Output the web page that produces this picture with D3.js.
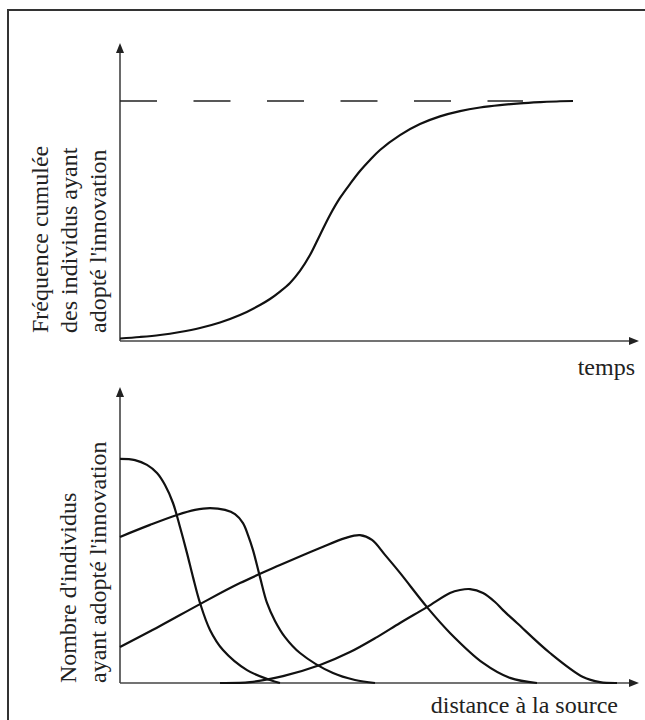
<!DOCTYPE html>
<html><head><meta charset="utf-8">
<script src="https://cdn.jsdelivr.net/npm/d3@7"></script>
<style>html,body{margin:0;padding:0;background:#fff;}svg{display:block;}
text{font-family:"Liberation Serif","Times New Roman",Times,serif;}</style>
</head><body>
<svg id="c" width="645" height="720"></svg>
<script>
// Top panel: cumulative frequency of adopters vs time (x: 0-100 time units, y: fraction 0-1)
const topCurve = [[0,0.0104],[4,0.0167],[8,0.025],[12,0.0375],[16,0.054],[20,0.077],[24,0.108],[28,0.15],[30,0.175],[32,0.206],[34,0.242],[36,0.292],[38,0.358],[40,0.442],[42,0.525],[44,0.596],[46,0.654],[48,0.708],[50,0.754],[52,0.796],[56,0.858],[60,0.904],[64,0.936],[68,0.958],[72,0.973],[76,0.983],[80,0.990],[84,0.995],[88,0.999],[90.6,1.0]];
const asymptote = 1.0;
const asymptoteEnd = 80.6;

// Bottom panel: number of adopters vs distance to source, four successive waves
const wave1 = [[0,74.7],[3,74.3],[5.4,72.7],[7.4,70],[9,66],[10.6,60],[12,52],[13.4,43.3],[14.6,35.3],[16,26.7],[18,17.7],[20.6,11],[25.4,4.3],[30,1],[32,0]];
const wave2 = [[0,48.7],[6,52.7],[11.4,56],[15,57.7],[18,58.3],[21,57.7],[23,56.3],[24.6,53.3],[25.6,49.3],[26.6,44.3],[28,35.3],[29.4,26.7],[31,20.7],[33,15.3],[36,10],[42.6,3.3],[47,1],[51,0]];
const wave3 = [[0,12],[8,19],[16,26.3],[24,33.3],[32,39.3],[40,45],[45,48.3],[48,49.3],[50.4,47.7],[53,42.7],[56,36.7],[61.4,25.3],[66,16.7],[72.6,6.7],[78,1.7],[83.4,0]];
const wave4 = [[20,0],[26,0.3],[32.6,2.3],[40,6],[46,10.3],[51.4,15.3],[56,20],[61.4,25.3],[66,30],[68,31],[70,31.3],[72.6,30],[75,27],[76.6,24.3],[79.4,20],[86,10],[92.6,2],[96,0.3],[99.4,0]];
const waves = [wave1, wave2, wave3, wave4];

const topYLabel = ["Fréquence cumulée", "des individus ayant", "adopté l'innovation"];
const topXLabel = "temps";
const botYLabel = ["Nombre d'individus", "ayant adopté l'innovation"];
const botXLabel = "distance à la source";

const svg = d3.select("#c");

// frame
svg.append("rect").attr("x",8).attr("y",10).attr("width",700).attr("height",760)
  .attr("fill","none").attr("stroke","#333").attr("stroke-width",2);

const x = d3.scaleLinear().domain([0,100]).range([120,620]);
const yTop = d3.scaleLinear().domain([0,1]).range([341,101]);
const yBot = d3.scaleLinear().domain([0,100]).range([683,383]);

function arrowUp(g, cx, tipY){
  g.append("path").attr("d",`M${cx},${tipY} L${cx-4},${tipY+10} L${cx+4},${tipY+10} Z`).attr("fill","#222");
}
function arrowRight(g, tipX, cy){
  g.append("path").attr("d",`M${tipX},${cy} L${tipX-10},${cy-4} L${tipX-10},${cy+4} Z`).attr("fill","#222");
}
function axes(yScale, topTip, rightTip){
  const g = svg.append("g");
  const x0 = x(0), y0 = yScale.range()[0];
  g.append("line").attr("x1",x0).attr("x2",x0).attr("y1",y0).attr("y2",topTip+6).attr("stroke","#444").attr("stroke-width",1.6);
  g.append("line").attr("x1",x0).attr("x2",rightTip-6).attr("y1",y0).attr("y2",y0).attr("stroke","#444").attr("stroke-width",1.6);
  arrowUp(g, x0, topTip);
  arrowRight(g, rightTip, y0);
}
axes(yTop, 43, 639);
axes(yBot, 387, 639);

// dashed asymptote
svg.append("line").attr("x1",x(0)).attr("x2",x(asymptoteEnd)).attr("y1",yTop(asymptote)).attr("y2",yTop(asymptote))
  .attr("stroke","#222").attr("stroke-width",1.6).attr("stroke-dasharray","37,36.5");

const lineTop = d3.line().x(d=>x(d[0])).y(d=>yTop(d[1])).curve(d3.curveCatmullRom.alpha(0.5));
svg.append("path").attr("d",lineTop(topCurve)).attr("fill","none").attr("stroke","#111").attr("stroke-width",2.2);

const lineBot = d3.line().x(d=>x(d[0])).y(d=>yBot(d[1])).curve(d3.curveCatmullRom.alpha(0.5));
svg.selectAll(".wave").data(waves).enter().append("path").attr("class","wave")
  .attr("d",lineBot).attr("fill","none").attr("stroke","#111").attr("stroke-width",2.2);

// labels
function yLabels(lines, xs, yStart){
  lines.forEach((t,i)=>{
    svg.append("text").attr("transform",`translate(${xs[i]},${yStart}) rotate(-90)`)
      .attr("text-anchor","start").attr("font-size",24).attr("fill","#222").text(t);
  });
}
yLabels(topYLabel,[48,77,106],333);
yLabels(botYLabel,[76,106],683);

svg.append("text").attr("x",635).attr("y",375).attr("text-anchor","end").attr("font-size",24).attr("fill","#222").text(topXLabel);
svg.append("text").attr("x",618).attr("y",713).attr("text-anchor","end").attr("font-size",24).attr("fill","#222").text(botXLabel);
</script>
</body></html>
